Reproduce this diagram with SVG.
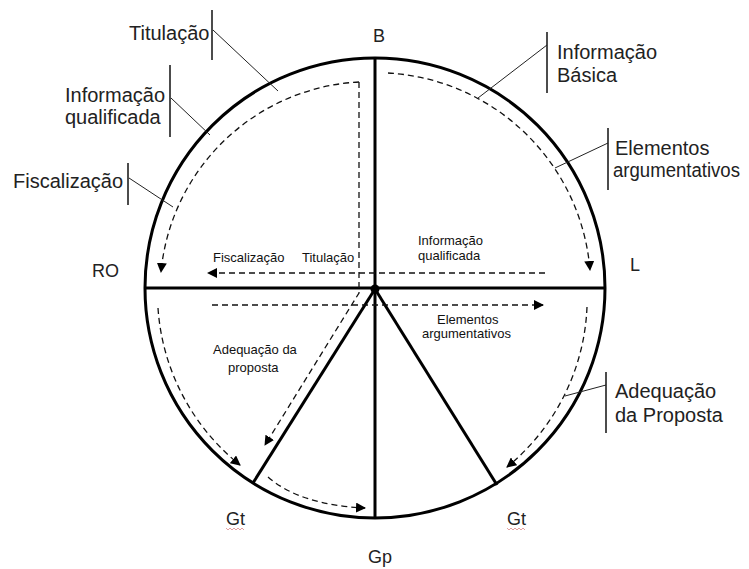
<svg xmlns="http://www.w3.org/2000/svg" width="749" height="569" viewBox="0 0 749 569">
<style>
.thick{fill:none;stroke:#000;stroke-width:3}
.dash{fill:none;stroke:#111;stroke-width:1.3;stroke-dasharray:6 4}
.lead{fill:none;stroke:#222;stroke-width:1}
.bar{fill:none;stroke:#111;stroke-width:1.5}
.big{font-family:"Liberation Sans",Arial,sans-serif;font-size:20px;fill:#222}
.pole{font-family:"Liberation Sans",Arial,sans-serif;font-size:18px;fill:#222}
.small{font-family:"Liberation Sans",Arial,sans-serif;font-size:13px;fill:#111}
.squig{fill:none;stroke:#d88;stroke-width:0.8}
</style>
<defs>
<marker id="ah" viewBox="0 0 10 10" refX="9" refY="5" markerWidth="10" markerHeight="10" markerUnits="userSpaceOnUse" orient="auto">
<path d="M0,0 L10,5 L0,10 z" fill="#000"/>
</marker>
</defs>
<rect width="749" height="569" fill="#fff"/>
<g id="wheel">
<circle cx="375" cy="288" r="230" class="thick"/>
<line x1="145" y1="288" x2="605" y2="288" class="thick"/>
<line x1="375" y1="58" x2="375" y2="518" class="thick"/>
<line x1="375" y1="289" x2="253" y2="483" class="thick"/>
<line x1="375" y1="289" x2="497" y2="485" class="thick"/>
<circle cx="375" cy="289" r="4.5" fill="#000"/>
</g>
<g id="connectors">
<path d="M359,82 A210,210 0 0 0 161,272" class="dash" marker-end="url(#ah)"/>
<path d="M359,82 V293 L265,445" class="dash" marker-end="url(#ah)"/>
<path d="M388,73 A215,215 0 0 1 590,270" class="dash" marker-end="url(#ah)"/>
<path d="M545,273 H208" class="dash" marker-end="url(#ah)"/>
<path d="M212,305 H543" class="dash" marker-end="url(#ah)"/>
<path d="M158,308 A220,220 0 0 0 240,465" class="dash" marker-end="url(#ah)"/>
<path d="M268,477 Q300,505 365,508" class="dash" marker-end="url(#ah)"/>
<path d="M587,307 A218,218 0 0 1 507,467" class="dash" marker-end="url(#ah)"/>
</g>
<g id="label-titulacao">
<text x="129" y="40" class="big">Titulação</text>
<line x1="212" y1="10" x2="212" y2="60" class="bar"/>
<line x1="213" y1="30" x2="278" y2="91" class="lead"/>
</g>
<g id="label-info-qualificada">
<text x="65" y="102" class="big">Informação</text>
<text x="65" y="124" class="big">qualificada</text>
<line x1="170" y1="65" x2="170" y2="137" class="bar"/>
<line x1="171" y1="98" x2="210" y2="135" class="lead"/>
</g>
<g id="label-fiscalizacao">
<text x="13" y="188" class="big">Fiscalização</text>
<line x1="128" y1="163" x2="128" y2="205" class="bar"/>
<line x1="129" y1="178" x2="173" y2="207" class="lead"/>
</g>
<g id="label-info-basica">
<text x="557" y="59" class="big">Informação</text>
<text x="557" y="82" class="big">Básica</text>
<line x1="547" y1="32" x2="547" y2="93" class="bar"/>
<line x1="547" y1="45" x2="478" y2="98" class="lead"/>
</g>
<g id="label-elementos">
<text x="615" y="155" class="big">Elementos</text>
<text x="613" y="177" class="big" textLength="127" lengthAdjust="spacingAndGlyphs">argumentativos</text>
<line x1="608" y1="128" x2="608" y2="190" class="bar"/>
<line x1="608" y1="143" x2="555" y2="168" class="lead"/>
</g>
<g id="label-adequacao">
<text x="615" y="398" class="big">Adequação</text>
<text x="615" y="422" class="big">da Proposta</text>
<line x1="606" y1="372" x2="606" y2="433" class="bar"/>
<line x1="606" y1="385" x2="565" y2="396" class="lead"/>
</g>
<g id="pole-B"><text x="373" y="42" class="pole">B</text></g>
<g id="pole-RO"><text x="92" y="277" class="pole">RO</text></g>
<g id="pole-L"><text x="630" y="271" class="pole">L</text></g>
<g id="pole-Gt-left"><text x="226" y="525" class="pole">Gt</text>
<path d="M226,528 l2,2 l2,-2 l2,2 l2,-2 l2,2 l2,-2 l2,2 l2,-2 l2,2" class="squig"/></g>
<g id="pole-Gt-right"><text x="507" y="525" class="pole">Gt</text>
<path d="M507,528 l2,2 l2,-2 l2,2 l2,-2 l2,2 l2,-2 l2,2 l2,-2 l2,2" class="squig"/></g>
<g id="pole-Gp"><text x="368" y="563" class="pole">Gp</text></g>
<g id="inner-labels">
<text x="213" y="262" class="small">Fiscalização</text>
<text x="302" y="262" class="small">Titulação</text>
<text x="418" y="245" class="small">Informação</text>
<text x="418" y="260" class="small">qualificada</text>
<text x="437" y="324" class="small">Elementos</text>
<text x="422" y="338" class="small">argumentativos</text>
<text x="213" y="354" class="small">Adequação da</text>
<text x="228" y="372" class="small">proposta</text>
</g>
</svg>
